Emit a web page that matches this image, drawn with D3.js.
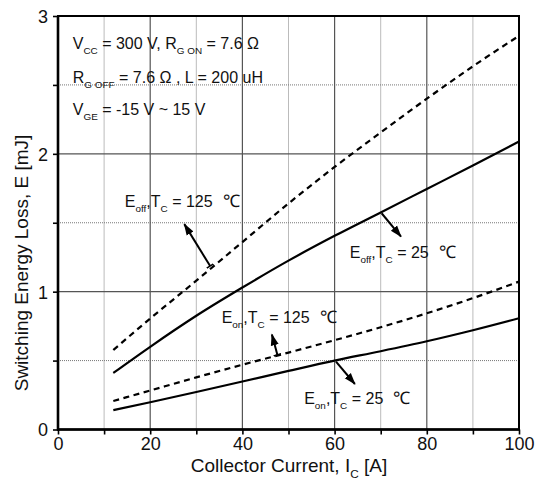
<!DOCTYPE html>
<html>
<head>
<meta charset="utf-8">
<script src="https://cdn.jsdelivr.net/npm/d3@7"></script>
<style>
  html, body { margin: 0; padding: 0; background: #fff; }
  svg { display: block; }
  text { font-family: "Liberation Sans", Arial, sans-serif; fill: #111; }
</style>
</head>
<body>
<svg id="chart" width="535" height="486"></svg>
<script>
// ---- data ----
const current = [12, 20, 30, 40, 50, 60, 70, 80, 90, 100];
const eoff125 = [0.577, 0.805, 1.08, 1.36, 1.64, 1.905, 2.155, 2.40, 2.635, 2.856];
const eoff25  = [0.41, 0.60, 0.825, 1.03, 1.225, 1.405, 1.575, 1.745, 1.915, 2.09];
const eon125  = [0.207, 0.283, 0.378, 0.470, 0.558, 0.648, 0.742, 0.843, 0.953, 1.073];
const eon25   = [0.141, 0.198, 0.272, 0.348, 0.425, 0.50, 0.568, 0.640, 0.72, 0.807];
const xTickLabels = [0, 20, 40, 60, 80, 100];
const yTickLabels = [0, 1, 2, 3];

const margin = {left: 58, right: 16, top: 16, bottom: 56.5};
const W = 535, H = 486;
const FONT = '"Liberation Sans", Arial, sans-serif';
const svg = d3.select("#chart");
const x = d3.scaleLinear().domain([0, 100]).range([margin.left, W - margin.right]);
const y = d3.scaleLinear().domain([0, 3]).range([H - margin.bottom, margin.top]);

// ---- grid ----
const g = svg.append("g");
const minorX = d3.range(10, 100, 20);
const majorX = d3.range(20, 100, 20);
const minorY = [0.5, 1.5, 2.5];
const majorY = [1, 2];
g.selectAll(".mx").data(minorX).join("line")
  .attr("x1", d => x(d)).attr("x2", d => x(d)).attr("y1", y(0)).attr("y2", y(3))
  .attr("stroke", "#777").attr("stroke-width", 1).attr("stroke-dasharray", "1,1");
g.selectAll(".my").data(minorY).join("line")
  .attr("x1", x(0)).attr("x2", x(100)).attr("y1", d => y(d)).attr("y2", d => y(d))
  .attr("stroke", "#777").attr("stroke-width", 1).attr("stroke-dasharray", "1,1");
g.selectAll(".Mx").data(majorX).join("line")
  .attr("x1", d => x(d)).attr("x2", d => x(d)).attr("y1", y(0)).attr("y2", y(3))
  .attr("stroke", "#555").attr("stroke-width", 1.2);
g.selectAll(".My").data(majorY).join("line")
  .attr("x1", x(0)).attr("x2", x(100)).attr("y1", d => y(d)).attr("y2", d => y(d))
  .attr("stroke", "#555").attr("stroke-width", 1.2);

// ---- axes ----
const xAxis = d3.axisBottom(x).tickValues(d3.range(0, 101, 10)).tickSize(5)
  .tickFormat(d => xTickLabels.includes(d) ? d : "");
const yAxis = d3.axisLeft(y).tickValues(d3.range(0, 3.01, 0.5)).tickSize(5)
  .tickFormat(d => yTickLabels.includes(d) ? d : "");
const xa = svg.append("g").attr("transform", `translate(0,${y(0)})`).call(xAxis);
const ya = svg.append("g").attr("transform", `translate(${x(0)},0)`).call(yAxis);
[xa, ya].forEach(a => {
  a.select(".domain").remove();
  a.selectAll(".tick line").attr("stroke", "#000").attr("stroke-width", 1.6);
  a.selectAll(".tick text").attr("font-size", 18).attr("fill", "#111")
    .style("font-family", FONT);
});
xa.selectAll(".tick text").attr("y", 7).attr("dy", "0.74em");
ya.selectAll(".tick text").attr("x", -10).attr("dy", "0.36em");

// frame
svg.append("rect").attr("x", x(0)).attr("y", y(3))
  .attr("width", x(100) - x(0)).attr("height", y(0) - y(3))
  .attr("fill", "none").attr("stroke", "#000").attr("stroke-width", 2);
svg.append("line").attr("x1", x(0)).attr("x2", x(0)).attr("y1", y(3)).attr("y2", y(0) + 1)
  .attr("stroke", "#000").attr("stroke-width", 2.6);
svg.append("line").attr("x1", x(0) - 1).attr("x2", x(100) + 1).attr("y1", y(0)).attr("y2", y(0))
  .attr("stroke", "#000").attr("stroke-width", 2.6);

// ---- curves ----
const line = d3.line().x(d => x(d[0])).y(d => y(d[1])).curve(d3.curveMonotoneX);
const series = [
  {vals: eoff125, dash: "6,4.5"},
  {vals: eoff25, dash: null},
  {vals: eon125, dash: "6,4.5"},
  {vals: eon25, dash: null}
];
series.forEach(s => {
  svg.append("path").datum(current.map((c, i) => [c, s.vals[i]]))
    .attr("d", line).attr("fill", "none").attr("stroke", "#000")
    .attr("stroke-width", 2.2).attr("stroke-dasharray", s.dash);
});

// ---- arrows ----
const defs = svg.append("defs");
defs.append("marker").attr("id", "head").attr("viewBox", "0 0 12 10")
  .attr("refX", 11).attr("refY", 5).attr("markerWidth", 6).attr("markerHeight", 5)
  .attr("orient", "auto").attr("markerUnits", "strokeWidth")
  .append("path").attr("d", "M0,1 L12,5 L0,9 Z").attr("fill", "#000");
defs.append("marker").attr("id", "bar").attr("viewBox", "0 0 10 10")
  .attr("refX", 5).attr("refY", 5).attr("markerWidth", 4).attr("markerHeight", 4)
  .attr("orient", "auto").attr("markerUnits", "strokeWidth")
  .append("path").attr("d", "M5,0 L5,10").attr("stroke", "#000").attr("stroke-width", 2);

const arrows = [
  {from: [33.0, 1.186], to: [27.4, 1.49], bar: true},
  {from: [70.2, 1.569], to: [74.4, 1.40], bar: false},
  {from: [47.6, 0.541], to: [46.4, 0.69], bar: true},
  {from: [60.3, 0.492], to: [64.4, 0.33], bar: false}
];
arrows.forEach(a => {
  svg.append("line")
    .attr("x1", x(a.from[0])).attr("y1", y(a.from[1]))
    .attr("x2", x(a.to[0])).attr("y2", y(a.to[1]))
    .attr("stroke", "#000").attr("stroke-width", 2)
    .attr("marker-end", "url(#head)")
    .attr("marker-start", a.bar ? "url(#bar)" : null);
});

// ---- text helpers ----
function rich(px, py, parts, size) {
  const t = svg.append("text").attr("x", px).attr("y", py).attr("font-size", size);
  let shifted = false;
  parts.forEach(p => {
    const sub = p.sub === true;
    const ts = t.append("tspan").text(p.t);
    if (p.cjk) ts.attr("dx", size * 0.35).attr("font-size", size * 1.08);
    if (sub) {
      ts.attr("font-size", size * 0.62);
      if (!shifted) { ts.attr("dy", size * 0.32); shifted = true; }
    } else if (shifted) {
      ts.attr("dy", -size * 0.32); shifted = false;
    }
  });
  return t;
}

// condition block
rich(x(3.2), y(2.76), [{t: "V"}, {t: "CC", sub: true}, {t: " = 300 V, R"}, {t: "G ON", sub: true}, {t: " = 7.6 Ω"}], 16);
rich(x(3.2), y(2.514), [{t: "R"}, {t: "G OFF", sub: true}, {t: " = 7.6 Ω  , L = 200 uH"}], 16);
rich(x(3.2), y(2.282), [{t: "V"}, {t: "GE", sub: true}, {t: " = -15 V ~ 15 V"}], 16);

// curve labels
rich(x(14.5), y(1.614), [{t: "E"}, {t: "off", sub: true}, {t: ",T"}, {t: "C", sub: true}, {t: " = 125 "}, {t: "℃", cjk: true}], 16);
rich(x(63.3), y(1.244), [{t: "E"}, {t: "off", sub: true}, {t: ",T"}, {t: "C", sub: true}, {t: " = 25 "}, {t: "℃", cjk: true}], 16);
rich(x(35.5), y(0.775), [{t: "E"}, {t: "on", sub: true}, {t: ",T"}, {t: "C", sub: true}, {t: " = 125 "}, {t: "℃", cjk: true}], 16);
rich(x(53.4), y(0.185), [{t: "E"}, {t: "on", sub: true}, {t: ",T"}, {t: "C", sub: true}, {t: " = 25 "}, {t: "℃", cjk: true}], 16);

// axis titles
const xt = rich(0, 472, [{t: "Collector Current, I"}, {t: "C", sub: true}, {t: " [A]"}], 19);
const xtw = xt.node().getComputedTextLength();
xt.attr("x", 289 - xtw / 2);

svg.append("text").attr("transform", `translate(28,263) rotate(-90)`)
  .attr("text-anchor", "middle").attr("font-size", 19)
  .text("Switching Energy Loss, E [mJ]");
</script>
</body>
</html>
